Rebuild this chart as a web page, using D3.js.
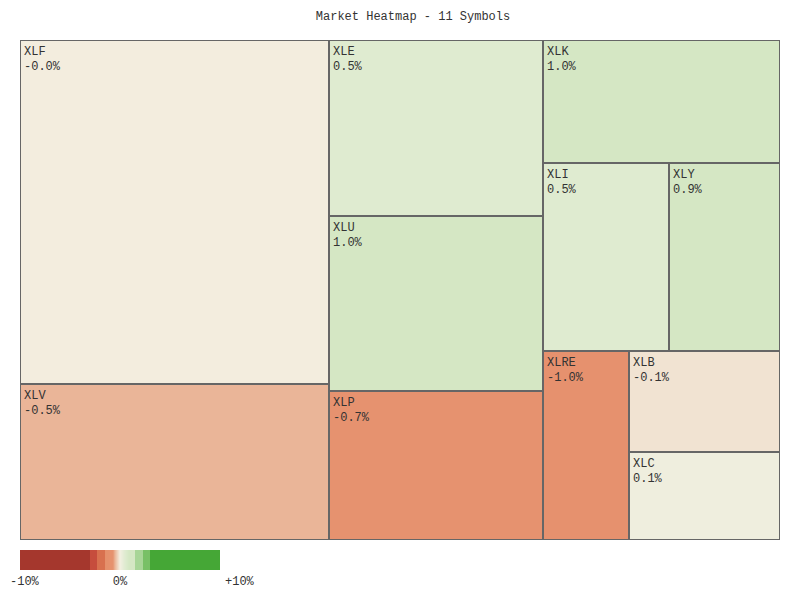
<!DOCTYPE html>
<html>
<head>
<meta charset="utf-8">
<script src="https://cdn.jsdelivr.net/npm/d3@7/dist/d3.min.js"></script>
<style>
  body { margin: 0; background: #fff; }
  svg text { font-family: "Liberation Mono", monospace; font-size: 12px; fill: #333; }
</style>
</head>
<body>
<div id="chart"></div>
<script>
// Dane: symbole, wagi (powierzchnia), zmiana %
const symbols = ["XLF", "XLV", "XLE", "XLU", "XLP", "XLK", "XLI", "XLY", "XLRE", "XLB", "XLC"];
const weights = [106.3, 48.2, 37.7, 37.4, 31.9, 29.2, 23.7, 20.9, 16.3, 15.3, 13.3];
const changes = [-0.02, -0.5, 0.5, 1.0, -0.7, 1.0, 0.5, 0.9, -1.0, -0.1, 0.1];
const legendTicks = [-10, 0, 10];

// podział układu: ile elementów w pasie i jego kierunek
const rowPlan = [[2, "col"], [3, "col"], [1, "row"], [2, "row"], [1, "col"], [1, "row"], [1, "row"]];

const width = 800, height = 600;
const margin = { top: 40, right: 20, bottom: 60, left: 20 };
const innerW = width - margin.left - margin.right;
const innerH = height - margin.top - margin.bottom;

// Skala kolorów
const steps = d3.scaleThreshold()
    .domain([-3, -2.25, -1.5, 1.5, 2.3, 3])
    .range(["#a5372d", "#c64d3d", "#d8704f", null, "#a8d597", "#78c066", "#45a736"]);
const mid = d3.scaleLinear()
    .domain([-1.5, -0.7, -0.5, 0, 0.5, 0.9, 1.5])
    .range(["#e58f6b", "#e6926f", "#eab598", "#f3efe1", "#dfebd0", "#d5e7c4", "#d5e7c4"])
    .clamp(true);
const color = v => steps(v) || mid(v);

// Kafelkowanie pasami (jak squarify, ale z ustalonym podziałem)
function tileByPlan(parent, x0, y0, x1, y1) {
    const nodes = parent.children;
    let value = parent.value, i = 0;
    rowPlan.forEach(([n, dir]) => {
        const kids = nodes.slice(i, i + n);
        i += n;
        if (!kids.length) return;
        const row = { children: kids, value: d3.sum(kids, d => d.value) };
        if (dir === "row") {
            const yy = value ? y0 + (y1 - y0) * row.value / value : y1;
            d3.treemapDice(row, x0, y0, x1, yy);
            y0 = yy;
        } else {
            const xx = value ? x0 + (x1 - x0) * row.value / value : x1;
            d3.treemapSlice(row, x0, y0, xx, y1);
            x0 = xx;
        }
        value -= row.value;
    });
}

const data = symbols.map((s, i) => ({ symbol: s, weight: weights[i], change: changes[i] }));
const root = d3.hierarchy({ children: data })
    .sum(d => d.weight || 0)
    .sort((a, b) => b.value - a.value);

d3.treemap().size([innerW, innerH]).tile(tileByPlan).round(true)(root);

const svg = d3.select("#chart").append("svg")
    .attr("width", width)
    .attr("height", height);

svg.append("text")
    .attr("x", 413)
    .attr("y", 20)
    .style("text-anchor", "middle")
    .text(`Market Heatmap - ${symbols.length} Symbols`);

const g = svg.append("g")
    .attr("transform", `translate(${margin.left},${margin.top})`);

const cell = g.selectAll("g.cell")
    .data(root.leaves())
    .join("g")
    .attr("class", "cell")
    .attr("transform", d => `translate(${d.x0},${d.y0})`);

cell.append("rect")
    .attr("x", 0.5)
    .attr("y", 0.5)
    .attr("width", d => d.x1 - d.x0 - 1)
    .attr("height", d => d.y1 - d.y0 - 1)
    .attr("fill", d => color(d.data.change))
    .attr("stroke", "#666")
    .attr("stroke-width", 1);

cell.append("text")
    .attr("x", 4)
    .attr("y", 15)
    .text(d => d.data.symbol);

cell.append("text")
    .attr("x", 4)
    .attr("y", 30)
    .text(d => `${d.data.change < 0 ? "-" : ""}${Math.abs(d.data.change).toFixed(1)}%`);

// Legenda
const lx = d3.scaleLinear().domain([-10, 10]).range([20, 220]);
const legend = svg.append("g");
d3.range(lx.range()[0], lx.range()[1]).forEach(px => {
    legend.append("rect")
        .attr("x", px)
        .attr("y", 550)
        .attr("width", 1)
        .attr("height", 20)
        .attr("fill", color(lx.invert(px + 0.5)));
});

legendTicks.forEach((t, i) => {
    const anchor = i === 1 ? "middle" : "start";
    const x = i === 0 ? lx(t) - 10 : i === 2 ? lx(t) + 5 : lx(t);
    legend.append("text")
        .attr("x", x)
        .attr("y", 585)
        .style("text-anchor", anchor)
        .text(t > 0 ? `+${t}%` : `${t}%`);
});
</script>
</body>
</html>
